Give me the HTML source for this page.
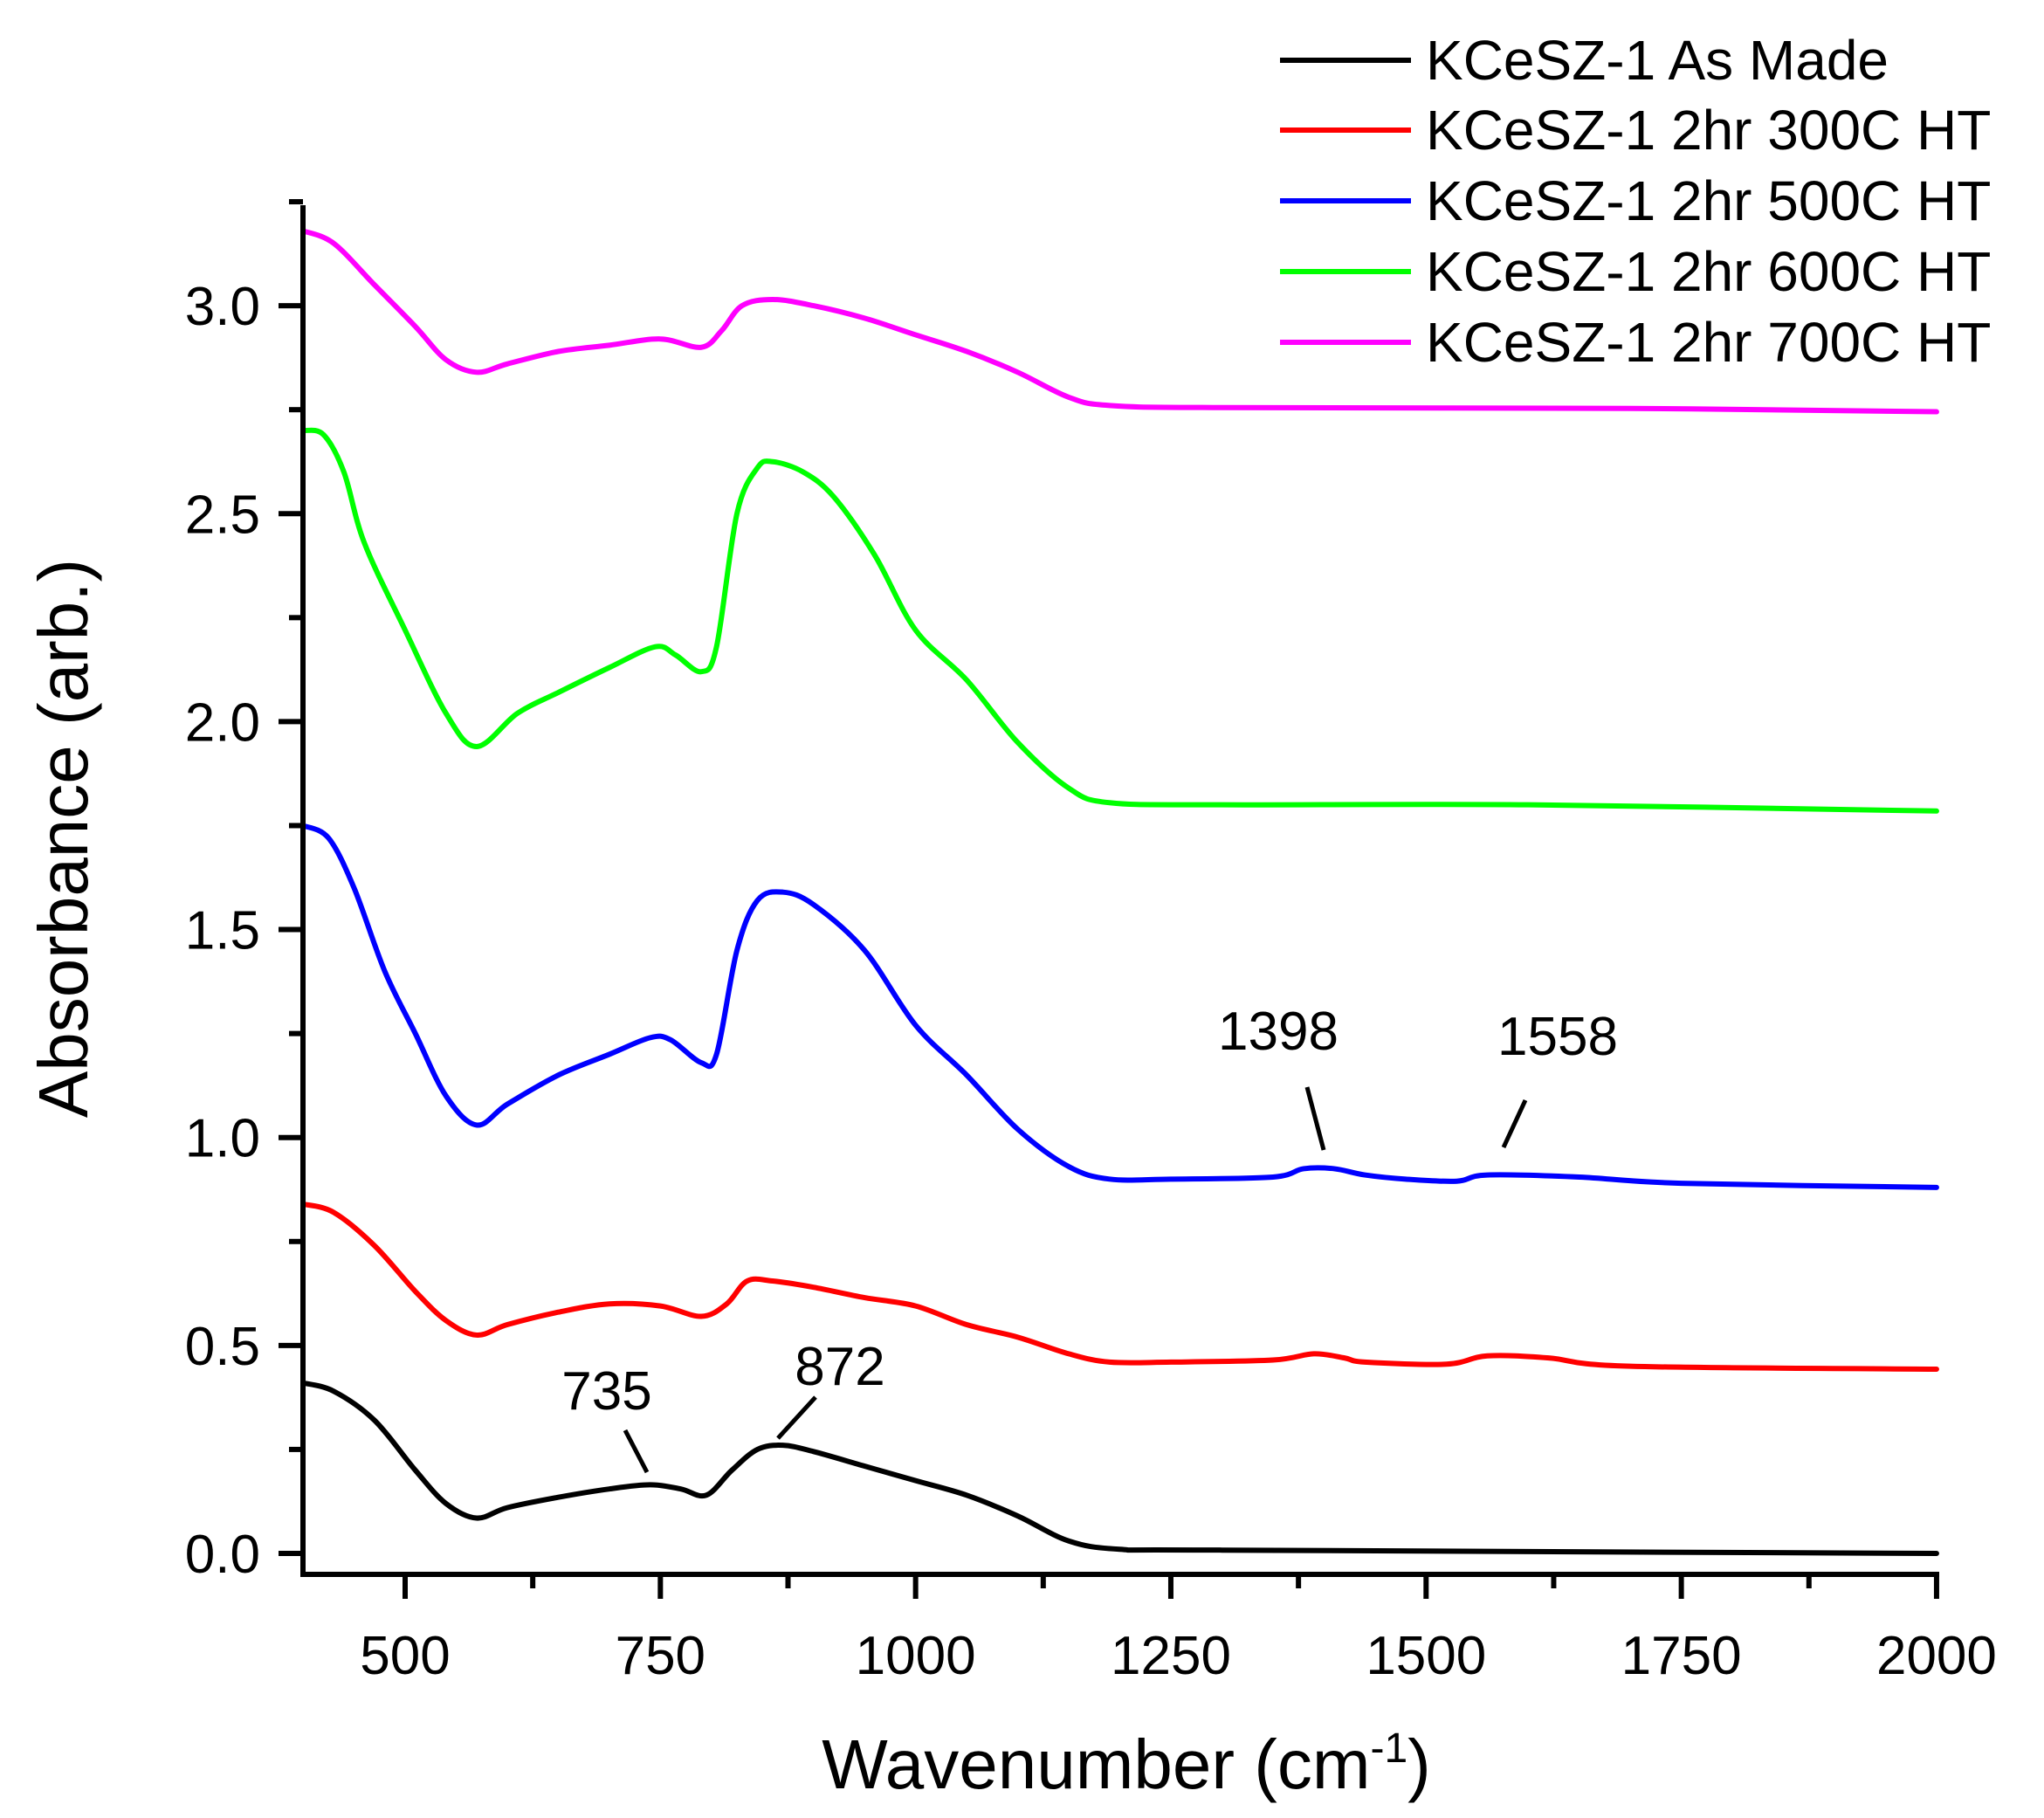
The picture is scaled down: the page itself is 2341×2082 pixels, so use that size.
<!DOCTYPE html>
<html><head><meta charset="utf-8"><style>
html,body{margin:0;padding:0;background:#fff;}
svg{display:block;}
text{font-family:"Liberation Sans",Arial,sans-serif;fill:#000;}
</style></head><body>
<svg id="s" width="2341" height="2082" viewBox="0 0 2341 2082" xmlns="http://www.w3.org/2000/svg">
<rect width="2341" height="2082" fill="#fff"/>
<g id="curves" fill="none" stroke-width="6" stroke-linejoin="round" stroke-linecap="round"></g>
<g id="axes" stroke="#000" stroke-width="6" fill="none"></g>
<g id="labels" font-size="62"></g>
<text x="1290" y="2048" font-size="80" text-anchor="middle">Wavenumber (cm<tspan dy="-30" font-size="48">-1</tspan><tspan dy="30">)</tspan></text>
<text transform="translate(100,960) rotate(-90)" font-size="80" text-anchor="middle">Absorbance (arb.)</text>
<g font-size="64">
<line x1="1466" y1="69" x2="1616" y2="69" stroke="#000" stroke-width="6"/><text x="1633" y="91">KCeSZ-1 As Made</text>
<line x1="1466" y1="149" x2="1616" y2="149" stroke="#ff0000" stroke-width="6"/><text x="1633" y="171">KCeSZ-1 2hr 300C HT</text>
<line x1="1466" y1="230" x2="1616" y2="230" stroke="#0000ff" stroke-width="6"/><text x="1633" y="252">KCeSZ-1 2hr 500C HT</text>
<line x1="1466" y1="311" x2="1616" y2="311" stroke="#00ff00" stroke-width="6"/><text x="1633" y="333">KCeSZ-1 2hr 600C HT</text>
<line x1="1466" y1="392" x2="1616" y2="392" stroke="#ff00ff" stroke-width="6"/><text x="1633" y="414">KCeSZ-1 2hr 700C HT</text>
</g>
<g font-size="62" text-anchor="middle">
<text x="695" y="1614">735</text>
<text x="962" y="1586">872</text>
<text x="1464" y="1202">1398</text>
<text x="1784" y="1208">1558</text>
</g>
<g stroke="#000" stroke-width="5">
<line x1="716" y1="1638" x2="741" y2="1686"/>
<line x1="934" y1="1600" x2="891" y2="1647"/>
<line x1="1497" y1="1245" x2="1516" y2="1317"/>
<line x1="1747" y1="1260" x2="1722" y2="1314"/>
</g>
</svg>
<script>
const X=w=>464+(w-500)*1.1693, Y=a=>1779-a*476.3;
const data={
"#000000":[[400,0.41],[430,0.39],[470,0.32],[510,0.2],[540,0.12],[570,0.085],[600,0.11],[650,0.135],[700,0.155],[740,0.165],[770,0.155],[795,0.14],[820,0.2],[845,0.25],[870,0.26],[900,0.245],[950,0.21],[1000,0.175],[1050,0.14],[1100,0.09],[1150,0.03],[1200,0.01],[1300,0.008],[2000,0.0]],
"#ff0000":[[400,0.84],[430,0.82],[470,0.74],[510,0.63],[540,0.56],[570,0.525],[600,0.55],[650,0.58],[700,0.6],[750,0.595],[790,0.57],[815,0.6],[835,0.655],[860,0.655],[900,0.64],[950,0.615],[1000,0.595],[1050,0.55],[1100,0.52],[1150,0.48],[1190,0.46],[1250,0.46],[1350,0.465],[1390,0.48],[1420,0.47],[1440,0.46],[1520,0.455],[1560,0.475],[1620,0.47],[1700,0.45],[2000,0.443]],
"#0000ff":[[400,1.75],[425,1.72],[450,1.6],[480,1.4],[510,1.25],[540,1.1],[570,1.03],[600,1.08],[650,1.15],[700,1.2],[740,1.24],[760,1.235],[790,1.18],[805,1.2],[825,1.45],[845,1.57],[870,1.59],[900,1.56],[950,1.45],[1000,1.27],[1050,1.15],[1100,1.02],[1150,0.93],[1190,0.9],[1250,0.9],[1350,0.905],[1380,0.925],[1410,0.925],[1440,0.91],[1480,0.9],[1530,0.895],[1560,0.91],[1650,0.905],[1750,0.89],[2000,0.88]],
"#00ff00":[[400,2.7],[420,2.69],[440,2.6],[460,2.43],[500,2.22],[540,2.02],[570,1.94],[610,2.02],[650,2.07],[700,2.13],[745,2.18],[765,2.16],[790,2.12],[805,2.18],[825,2.5],[845,2.61],[860,2.625],[890,2.6],[920,2.54],[960,2.4],[1000,2.22],[1050,2.1],[1100,1.95],[1150,1.84],[1190,1.805],[1300,1.8],[1600,1.8],[2000,1.785]],
"#ff00ff":[[400,3.18],[430,3.15],[470,3.05],[510,2.95],[540,2.87],[570,2.84],[600,2.86],[650,2.89],[700,2.905],[750,2.92],[790,2.9],[810,2.94],[830,3.0],[860,3.015],[900,3.0],[950,2.97],[1000,2.93],[1050,2.89],[1100,2.84],[1150,2.78],[1190,2.76],[1300,2.755],[1700,2.753],[2000,2.745]]};
const NS="http://www.w3.org/2000/svg";
function path(p){const q=p.map(([w,a])=>[X(w),Y(a)]);let d="M"+q[0].join(",");
for(let i=0;i<q.length-1;i++){const p0=q[i-1]||q[i],p1=q[i],p2=q[i+1],p3=q[i+2]||p2;
d+=` C${p1[0]+(p2[0]-p0[0])/6},${p1[1]+(p2[1]-p0[1])/6} ${p2[0]-(p3[0]-p1[0])/6},${p2[1]-(p3[1]-p1[1])/6} ${p2[0]},${p2[1]}`;}return d;}
const cg=document.getElementById("curves");
for(const c in data){const e=document.createElementNS(NS,"path");e.setAttribute("d",path(data[c]));e.setAttribute("stroke",c);cg.appendChild(e);}
const ag=document.getElementById("axes"),lg=document.getElementById("labels");
function ln(x1,y1,x2,y2){const e=document.createElementNS(NS,"line");e.setAttribute("x1",x1);e.setAttribute("y1",y1);e.setAttribute("x2",x2);e.setAttribute("y2",y2);ag.appendChild(e);}
function tx(x,y,s,anc){const e=document.createElementNS(NS,"text");e.setAttribute("x",x);e.setAttribute("y",y);e.setAttribute("text-anchor",anc);e.textContent=s;lg.appendChild(e);}
ln(347,235,347,1806);ln(344,1803,2221,1803);
for(let w=500;w<=2000;w+=125){const x=X(w);const maj=(w%250==0);ln(x,1803,x,1803+(maj?28:16));if(maj)tx(x,1917,String(w),"middle");}
for(let i=0;i<=13;i++){const a=i*0.25,y=Y(a);const maj=(i%2==0);ln(347,y,347-(maj?28:16),y);if(maj)tx(298,y+22,a.toFixed(1),"end");}
</script>
</body></html>
